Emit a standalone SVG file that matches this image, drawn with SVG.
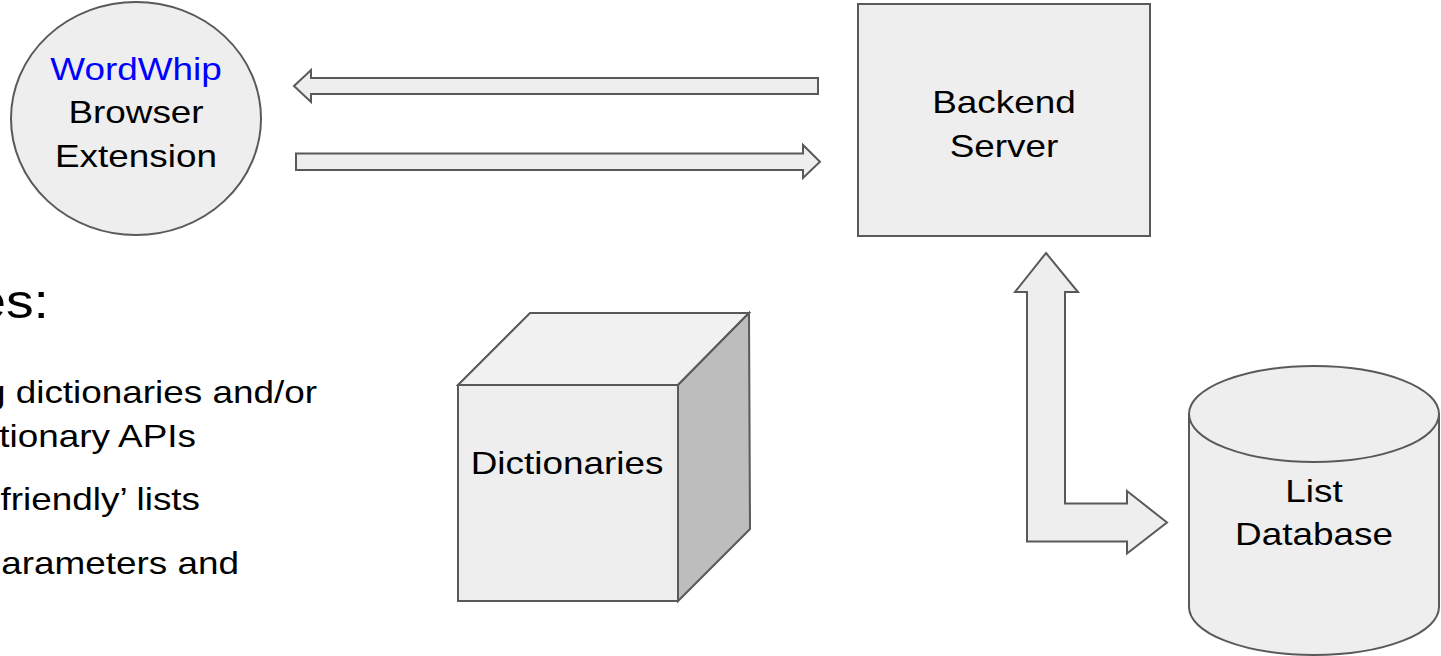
<svg xmlns="http://www.w3.org/2000/svg" width="1441" height="656" viewBox="0 0 1441 656">
<style>
  .shape { fill: #eeeeee; stroke: #595959; stroke-width: 2; stroke-linejoin: miter; }
  .side { fill: #bdbdbd; stroke: #595959; stroke-width: 2; }
  .top { fill: #f1f1f1; stroke: #595959; stroke-width: 2; }
  .arrow { fill: #eeeeee; stroke: #595959; stroke-width: 2; stroke-linejoin: miter; }
  text { font-family: "Liberation Sans", Arial, sans-serif; font-size: 32px; fill: #000000; }
  .c { text-anchor: middle; }
  .e { text-anchor: end; }
  .blue { fill: #0000ff; }
  .big { font-size: 48px; }
</style>
<rect width="1441" height="656" fill="#ffffff"/>

<g id="connectors">
  <polygon class="arrow" points="294,86 311,70 311,78 818,78 818,94 311,94 311,102"/>
  <polygon class="arrow" points="296,153.5 803,153.5 803,145 820,161.7 803,178 803,170 296,170"/>
  <polygon class="arrow" points="1046,253 1078,292 1065,292 1065,503.5 1127,503.5 1127,491 1167,522.5 1127,553.5 1127,541.5 1027,541.5 1027,292 1015,292"/>
</g>

<g id="browser-extension">
  <ellipse class="shape" cx="136" cy="118.5" rx="125" ry="116.5"/>
  <text class="c blue" transform="matrix(1.153 0 0 1 136 80)">WordWhip</text>
  <text class="c" transform="matrix(1.153 0 0 1 136 123)">Browser</text>
  <text class="c" transform="matrix(1.153 0 0 1 136 167)">Extension</text>
</g>

<g id="backend-server">
  <rect class="shape" x="858" y="4" width="292" height="232"/>
  <text class="c" transform="matrix(1.153 0 0 1 1004 113)">Backend</text>
  <text class="c" transform="matrix(1.153 0 0 1 1004 156.5)">Server</text>
</g>

<g id="dictionaries">
  <polygon class="top" points="458,385 530,313 749,313 678,385"/>
  <polygon class="side" points="678,385 749,313 750,529 678,601"/>
  <rect class="shape" x="458" y="385" width="220" height="216"/>
  <text class="c" transform="matrix(1.153 0 0 1 567 474)">Dictionaries</text>
</g>

<g id="list-database">
  <path class="shape" d="M1189,414 L1189,607 A125,48 0 0 0 1439,607 L1439,414 Z"/>
  <ellipse class="shape" cx="1314" cy="414" rx="125" ry="48"/>
  <text class="c" transform="matrix(1.153 0 0 1 1314 501.5)">List</text>
  <text class="c" transform="matrix(1.153 0 0 1 1314 545)">Database</text>
</g>

<g id="notes">
  <text class="e big" transform="matrix(1.153 0 0 1 49 318)">es:</text>
  <text class="e" transform="matrix(1.153 0 0 1 317 403)">g dictionaries and/or</text>
  <text class="e" transform="matrix(1.153 0 0 1 196 446.5)">tionary APIs</text>
  <text class="e" transform="matrix(1.153 0 0 1 200 510)">friendly’ lists</text>
  <text class="e" transform="matrix(1.153 0 0 1 239 573.5)">arameters and</text>
</g>
</svg>
